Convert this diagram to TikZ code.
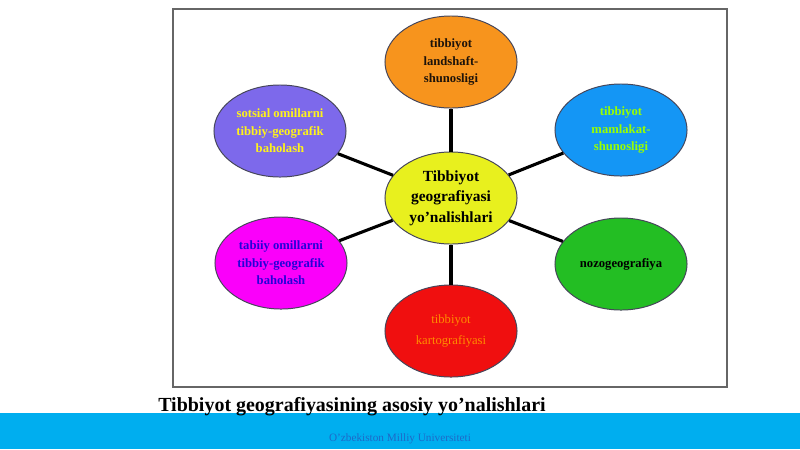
\documentclass[tikz,border=0pt]{standalone}
\usepackage{fontspec}
\setmainfont{Liberation Serif}
\usetikzlibrary{shapes.geometric}

\definecolor{bandblue}{RGB}{0,174,239}
\definecolor{footblue}{RGB}{30,105,200}
\definecolor{orangefill}{RGB}{247,148,29}
\definecolor{bluefill}{RGB}{20,150,245}
\definecolor{purplefill}{RGB}{125,105,235}
\definecolor{yellowfill}{RGB}{232,240,30}
\definecolor{magentafill}{RGB}{250,0,250}
\definecolor{greenfill}{RGB}{35,190,35}
\definecolor{redfill}{RGB}{240,15,15}
\definecolor{ovalborder}{RGB}{70,70,90}

\begin{document}
\begin{tikzpicture}[x=0.025cm,y=-0.025cm]
% Styles
\tikzstyle{oval}=[ellipse,draw=ovalborder,line width=0.7pt,minimum width=3.3cm,minimum height=2.3cm,inner sep=0pt,align=center,font=\fontsize{9}{12.5}\selectfont\bfseries]
\tikzstyle{spoke}=[line width=2.2pt,black]

% Page and frame
\useasboundingbox (0,0) rectangle (800,449);
\fill[bandblue] (0,413) rectangle (800,449);
\draw[gray!80!black,line width=0.8pt] (173,9) rectangle (727,387);

% Coordinates of the ovals.
\coordinate (C) at (451,198);	% Centre.
\coordinate (T) at (451,62);	% Top.
\coordinate (TR) at (621,130);	% Upper right.
\coordinate (TL) at (280,131);	% Upper left.
\coordinate (BL) at (281,263);	% Lower left.
\coordinate (BR) at (621,264);	% Lower right.
\coordinate (B) at (451,331);	% Bottom.

% The ovals
\node[oval,fill=yellowfill,font=\fontsize{11}{14.5}\selectfont\bfseries] (centre) at (C) {Tibbiyot\\geografiyasi\\yo’nalishlari};
\node[oval,fill=orangefill,text=black!85!brown] (landshaft) at (T) {tibbiyot\\landshaft-\\shunosligi};
\node[oval,fill=bluefill,text=green!40!yellow] (mamlakat) at (TR) {tibbiyot\\mamlakat-\\shunosligi};
\node[oval,fill=purplefill,text=yellow!90!white] (sotsial) at (TL) {sotsial omillarni\\tibbiy-geografik\\baholash};
\node[oval,fill=magentafill,text=blue!70!violet] (tabiiy) at (BL) {tabiiy omillarni\\tibbiy-geografik\\baholash};
\node[oval,fill=greenfill,text=black] (nozo) at (BR) {nozogeografiya};
\node[oval,fill=redfill,text=orange!90!yellow,font=\fontsize{9}{15.5}\selectfont] (karto) at (B) {tibbiyot\\kartografiyasi};

% Draw spokes.
\draw[spoke] (centre) -- (landshaft);
\draw[spoke] (centre) -- (mamlakat);
\draw[spoke] (centre) -- (sotsial);
\draw[spoke] (centre) -- (tabiiy);
\draw[spoke] (centre) -- (nozo);
\draw[spoke] (centre) -- (karto);

% Caption and footer.
\node[anchor=base west,inner sep=0pt,font=\fontsize{14.2}{16}\selectfont\bfseries] (caption) at (158,411) {Tibbiyot geografiyasining asosiy yo’nalishlari};
\node[inner sep=0pt,text=footblue,font=\fontsize{8}{9}\selectfont] (foot) at (400,439) {O’zbekiston Milliy Universiteti};
\end{tikzpicture}
\end{document}
